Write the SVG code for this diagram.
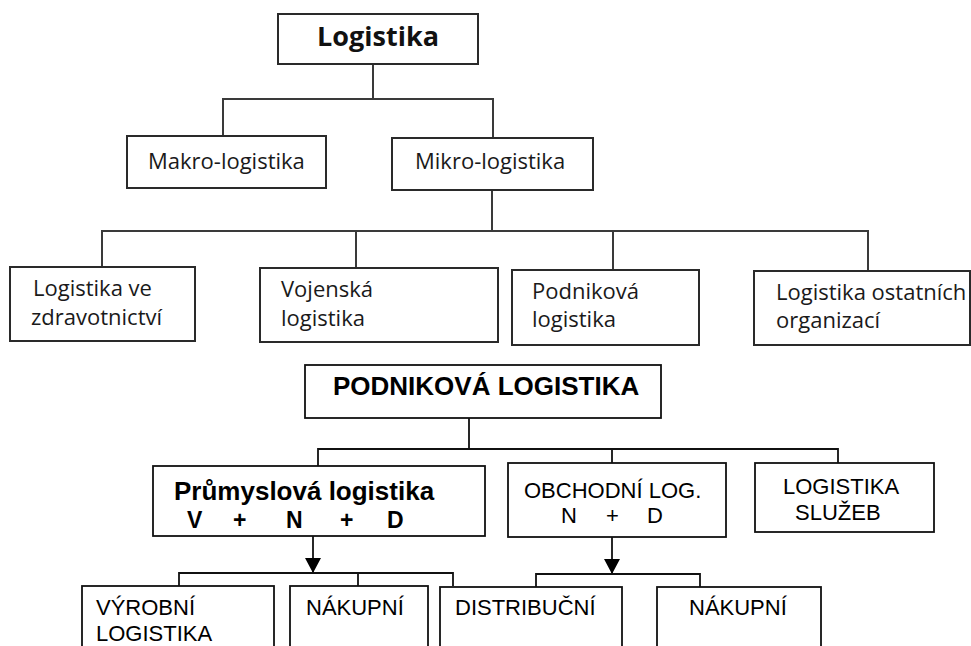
<svg xmlns="http://www.w3.org/2000/svg" width="971" height="646" viewBox="0 0 971 646">
  <defs>
    <style>
      .box { fill: #fff; stroke: #2a2a2a; stroke-width: 2; }
      .boxb { fill: #fff; stroke: #111; stroke-width: 1.8; }
      .ln { fill: none; stroke: #3a3a3a; stroke-width: 2; }
      .lnb { fill: none; stroke: #111; stroke-width: 1.8; }
      .hum { font-family: "Open Sans", "Noto Sans", sans-serif; font-size: 22px; fill: #1a1a1a; }
      .humb { font-family: "Open Sans", "Noto Sans", sans-serif; font-size: 27px; font-weight: bold; fill: #111; }
      .ar { font-family: "Liberation Sans", Arial, sans-serif; font-size: 22px; fill: #000; }
      .arb { font-family: "Liberation Sans", Arial, sans-serif; font-size: 26px; font-weight: bold; fill: #000; }
      .arb2 { font-family: "Liberation Sans", Arial, sans-serif; font-size: 23px; font-weight: bold; fill: #000; }
    </style>
    <!-- solid triangular arrowhead, tip at the end of the line -->
    <marker id="tri" viewBox="0 0 15 16" markerWidth="15" markerHeight="16" refX="15" refY="8" orient="auto" markerUnits="userSpaceOnUse">
      <path d="M0,0 L15,8 L0,16 Z" fill="#000"/>
    </marker>
  </defs>
  <rect width="971" height="646" fill="#fff"/>

  <!-- connectors -->
  <g id="connectors">
    <!-- Logistika -> Makro / Mikro -->
    <path class="ln" d="M373,64 V99 M223,136 V99 H493 V138"/>
    <!-- Mikro -> four organisation types -->
    <path class="ln" d="M492,190 V231 M102,268 V231 H868 V271 M356,231 V268 M613,231 V270"/>
    <!-- Podniková logistika -> three branches -->
    <path class="lnb" d="M469,418 V449 M318,466 V449 H838 V463 M612,449 V463"/>
    <!-- Průmyslová logistika -> sub-branches -->
    <path class="lnb" d="M313,536 V573" marker-end="url(#tri)"/>
    <path class="lnb" d="M179,586 V573 H453 V586 M358,573 V586"/>
    <!-- Obchodní log. -> sub-branches -->
    <path class="lnb" d="M612,537 V574" marker-end="url(#tri)"/>
    <path class="lnb" d="M536,587 V574 H700 V587"/>
  </g>

  <!-- upper tree -->
  <g id="logistika">
    <rect class="box" x="278" y="14" width="200" height="50"/>
    <text class="humb" x="378" y="46" text-anchor="middle">Logistika</text>
  </g>
  <g id="makro">
    <rect class="box" x="127" y="136" width="199" height="52"/>
    <text class="hum" x="148" y="169">Makro-logistika</text>
  </g>
  <g id="mikro">
    <rect class="box" x="392" y="138" width="201" height="52"/>
    <text class="hum" x="415" y="169">Mikro-logistika</text>
  </g>
  <g id="zdravotnictvi">
    <rect class="box" x="10" y="267" width="185" height="74"/>
    <text class="hum" x="33" y="296">Logistika ve</text>
    <text class="hum" x="31" y="325">zdravotnictví</text>
  </g>
  <g id="vojenska">
    <rect class="box" x="260" y="268" width="238" height="74"/>
    <text class="hum" x="281" y="297">Vojenská</text>
    <text class="hum" x="281" y="326">logistika</text>
  </g>
  <g id="podnikova">
    <rect class="box" x="512" y="270" width="187" height="75"/>
    <text class="hum" x="532" y="299">Podniková</text>
    <text class="hum" x="532" y="327">logistika</text>
  </g>
  <g id="ostatni">
    <rect class="box" x="754" y="271" width="216" height="74"/>
    <text class="hum" x="776" y="300">Logistika ostatních</text>
    <text class="hum" x="776" y="328">organizací</text>
  </g>

  <!-- lower tree -->
  <g id="podnikova-logistika">
    <rect class="boxb" x="305" y="365" width="356" height="53"/>
    <text class="arb" x="333" y="395">PODNIKOVÁ LOGISTIKA</text>
  </g>
  <g id="prumyslova">
    <rect class="boxb" x="153" y="466" width="332" height="70"/>
    <text class="arb" x="174" y="500">Průmyslová logistika</text>
    <text class="arb2" y="528"><tspan x="187">V</tspan><tspan x="233">+</tspan><tspan x="286">N</tspan><tspan x="340">+</tspan><tspan x="387">D</tspan></text>
  </g>
  <g id="obchodni">
    <rect class="boxb" x="508" y="463" width="218" height="74"/>
    <text class="ar" x="524" y="498">OBCHODNÍ LOG.</text>
    <text class="ar" y="523"><tspan x="561">N</tspan><tspan x="606">+</tspan><tspan x="647">D</tspan></text>
  </g>
  <g id="sluzeb">
    <rect class="boxb" x="755" y="463" width="179" height="69"/>
    <text class="ar" x="783" y="494">LOGISTIKA</text>
    <text class="ar" x="795" y="520">SLUŽEB</text>
  </g>
  <g id="vyrobni">
    <rect class="boxb" x="82" y="586" width="192" height="80"/>
    <text class="ar" x="96" y="615">VÝROBNÍ</text>
    <text class="ar" x="96" y="641">LOGISTIKA</text>
  </g>
  <g id="nakupni-1">
    <rect class="boxb" x="290" y="586" width="138" height="80"/>
    <text class="ar" x="306" y="615">NÁKUPNÍ</text>
  </g>
  <g id="distribucni">
    <rect class="boxb" x="440" y="587" width="182" height="80"/>
    <text class="ar" x="455" y="615">DISTRIBUČNÍ</text>
  </g>
  <g id="nakupni-2">
    <rect class="boxb" x="657" y="587" width="164" height="80"/>
    <text class="ar" x="689" y="615">NÁKUPNÍ</text>
  </g>
</svg>
